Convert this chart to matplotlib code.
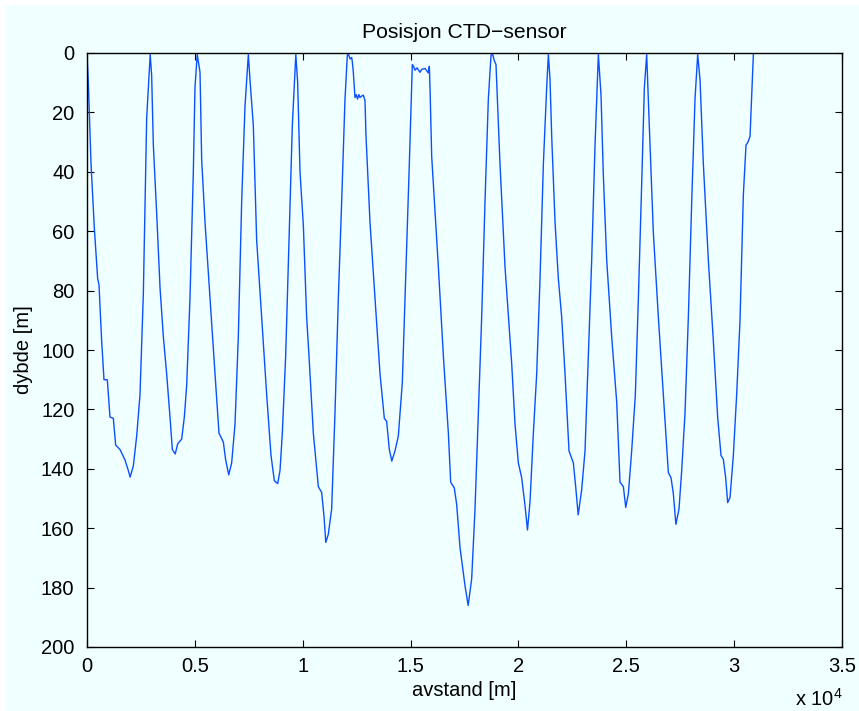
import matplotlib
matplotlib.use('Agg')
import matplotlib.pyplot as plt
from matplotlib.patches import Rectangle
from matplotlib.ticker import FuncFormatter

plt.rcParams['font.family'] = ['Liberation Sans', 'DejaVu Sans']

# distance along track [m] and sensor depth [m]
distance = [0, 62, 185, 340, 495, 556, 680, 788, 942, 1066, 1220, 1329, 1530, 1761, 1916, 2000, 2148, 2303, 2457, 2612, 2766, 2843, 2930,
            2998, 3075, 3230, 3385, 3539, 3693, 3848, 3956, 4090, 4203, 4389, 4512, 4620, 4774, 4929, 5006, 5110,
            5239, 5316, 5471, 5702, 5934, 6119, 6320, 6428, 6570, 6706, 6861, 7015, 7170, 7324, 7479,
            7556, 7711, 7865, 8097, 8329, 8530, 8684, 8839, 8947, 9055, 9210, 9364, 9518, 9680,
            9766, 9874, 10029, 10183, 10291, 10492, 10724, 10879, 10987, 11070, 11188, 11342, 11497, 11651, 11806, 11960, 12068,
            12120, 12192, 12269, 12300, 12346, 12424, 12480, 12540, 12600, 12655, 12730, 12810, 12887,
            12934, 13119, 13351, 13583, 13783, 13891, 14015, 14130, 14277, 14432, 14617, 14772, 14942, 15081,
            15140, 15205, 15300, 15437, 15520, 15670, 15750, 15824, 15870, 15901,
            15979, 16288, 16520, 16752, 16859, 17029, 17137, 17292, 17524, 17670, 17833, 17987, 18142, 18296, 18451, 18605, 18729,
            18800, 18883, 18960, 19146, 19378, 19687, 19842, 19996, 20150, 20300, 20420, 20538, 20692, 20847, 21001, 21156, 21310, 21388,
            21465, 21542, 21697, 21851, 22006, 22160, 22345, 22546, 22654, 22770, 22933, 23087, 23242, 23396, 23551, 23705,
            23829, 23937, 24092, 24323, 24555, 24709, 24864, 24975, 25096, 25250, 25420, 25560, 25714, 25838, 25946,
            26054, 26255, 26487, 26719, 26950, 27074, 27182, 27300, 27444, 27568, 27722, 27877, 28032, 28186, 28310,
            28418, 28573, 28804, 29036, 29236, 29391, 29499, 29607, 29700, 29808, 29963, 30117, 30272, 30427, 30550, 30600, 30658, 30737, 30891]

depth = [0, 10, 37, 59, 76, 78, 97, 110, 110, 122.6, 123, 132, 133.5, 137, 140.6, 142.8, 139, 129, 115, 81, 22, 11.6, 0.5,
         7.7, 31, 54, 79, 95.5, 108, 122.6, 133.5, 135, 131.6, 130, 122.6, 112, 82.6, 40, 11.6, 0.5,
         6.5, 36, 57, 82.6, 108, 128, 131, 137, 142, 138, 125, 95.5, 50, 18, 0.5,
         9, 24.5, 63, 89, 115, 135.5, 144, 145, 140.6, 128, 102, 63, 24.5, 0.5,
         10, 40, 58, 89, 102, 128, 146, 148, 156, 164.8, 162, 153.5, 121, 82.6, 50, 15.5, 0.8,
         0.3, 2, 1.5, 3, 6.5, 15, 14, 15.5, 14, 15, 14.5, 14.2, 16,
         28, 57, 82.6, 108, 123, 124, 133.5, 137.4, 134, 129, 111, 76, 37.4, 3.9,
         4.5, 5.8, 5, 6.5, 5.5, 5.2, 6, 6.7, 4.5, 11.6,
         34.8, 72, 102, 128, 144.5, 146.5, 152, 166.5, 179.4, 186, 177, 153.6, 121, 89, 50, 15.5, 0.8,
         0.3, 2.6, 3.9, 37.4, 72, 104.5, 125, 138, 143, 152, 160.6, 151, 128, 108, 76, 37.4, 11.6, 0.5,
         9, 28, 57, 76, 89, 108, 134, 138, 146, 155.5, 147, 134, 102, 69.7, 31, 0.5,
         14.2, 41.3, 69.7, 95.5, 117.4, 144.5, 146, 153, 148.4, 134, 115, 82.6, 44, 11.6, 0.5,
         22, 60.6, 89, 115, 141.3, 143, 148.4, 158.7, 153.5, 140.6, 121.3, 89, 50.3, 15.5, 0.5,
         9, 37.4, 69.7, 97, 122.6, 135.5, 136.8, 143, 151.4, 149.7, 135.5, 115, 90, 47.7, 31, 30.5, 29.7, 28, 0.5]

xticks = [0, 5000, 10000, 15000, 20000, 25000, 30000, 35000]
yticks = [0, 20, 40, 60, 80, 100, 120, 140, 160, 180, 200]

bg = '#F0FFFF'
fig = plt.figure(figsize=(8.59, 7.11), dpi=100, facecolor='white')
fig.patches.append(Rectangle((6/859, 0), 1, 1 - 5/711, transform=fig.transFigure,
                             facecolor=bg, edgecolor='none', zorder=-10))

ax = fig.add_axes([87/859, 1 - 647/711, 755/859, 594/711])
ax.set_facecolor(bg)
ax.plot(distance, depth, color='#0a50ff', linewidth=1.0)

ax.set_xlim(0, 35000)
ax.set_ylim(200, 0)
ax.set_xticks(xticks)
ax.set_yticks(yticks)
ax.xaxis.set_major_formatter(FuncFormatter(lambda v, p: '%g' % (v / 1e4)))
ax.tick_params(direction='in', length=5, width=0.8, top=True, right=True, labelsize=14.5)
ax.tick_params(axis='y', pad=9)
ax.tick_params(axis='x', pad=7)
for s in ax.spines.values():
    s.set_linewidth(1.0)

ax.set_title('Posisjon CTD\u2212sensor', fontsize=15.2, pad=11)
ax.set_xlabel('avstand [m]', fontsize=14.5)
ax.set_ylabel('dybde [m]', fontsize=14.5)
ax.xaxis.set_label_coords(0.5, -0.058)
ax.yaxis.set_label_coords(-0.071, 0.5)
fig.text(795/859, 1 - 706/711, r'x 10$^{\mathregular{4}}$', fontsize=14.5, ha='left', va='baseline')

fig.savefig('out.png', dpi=100, facecolor=fig.get_facecolor())
